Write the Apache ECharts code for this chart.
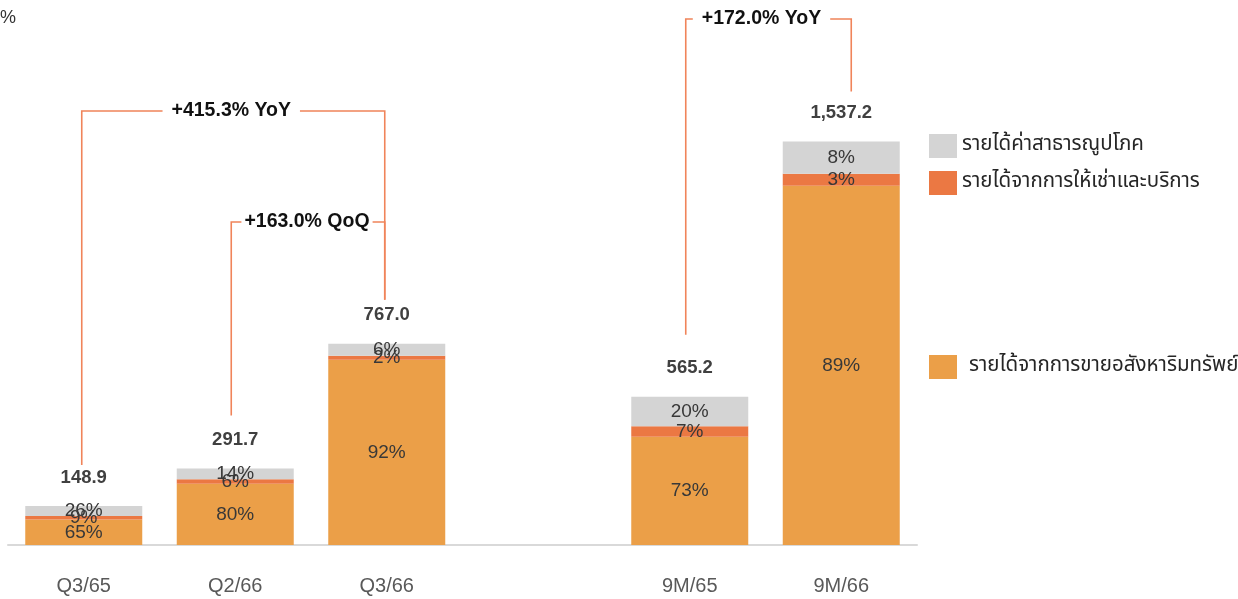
<!DOCTYPE html>
<html>
<head>
<meta charset="utf-8">
<script src="https://cdn.jsdelivr.net/npm/echarts@6/dist/echarts.min.js"></script>
<style>
  html, body { margin: 0; padding: 0; background: #fff; }
  #chart { width: 1238px; height: 599px; }
</style>
</head>
<body>
<div id="chart"></div>
<script>
// Revenue by period (million baht) and the share of each revenue stream (%)
const categories   = ['Q3/65', 'Q2/66', 'Q3/66', '', '9M/65', '9M/66'];
const totals       = [148.9, 291.7, 767.0, null, 565.2, 1537.2];
const shareSales   = [65, 80, 92, null, 73, 89];
const shareRent    = [9, 6, 2, null, 7, 3];
const shareUtility = [26, 14, 6, null, 20, 8];

const seriesNames = [
  'รายได้จากการขายอสังหาริมทรัพย์',
  'รายได้จากการให้เช่าและบริการ',
  'รายได้ค่าสาธารณูปโภค'
];

// Growth call-outs: text, from category, to category
const growthLabels = ['+415.3% YoY', '+163.0% QoQ', '+172.0% YoY'];
const growthFrom   = [0, 1, 4];
const growthTo     = [2, 2, 5];

const LATIN = 'Arial, "Liberation Sans", sans-serif';
const THAI = 'Tahoma, "Noto Sans Thai", "Leelawadee UI", "DejaVu Sans", sans-serif';

const seg = (shares) => totals.map((t, i) => t == null ? null : t * shares[i] / 100);
const shareLabel = (shares) => ({
  show: true,
  position: 'inside',
  color: '#383838',
  fontSize: 19,
  fontFamily: LATIN,
  formatter: p => shares[p.dataIndex] + '%'
});

const chart = echarts.init(document.getElementById('chart'), null, { renderer: 'canvas' });

chart.setOption({
  animation: false,
  backgroundColor: '#fff',
  grid: { left: 8, right: 321, top: 20, bottom: 54 },
  xAxis: {
    type: 'category',
    data: categories,
    axisLine: { lineStyle: { color: '#D9D9D9', width: 2 } },
    axisTick: { show: false },
    axisLabel: { color: '#595959', fontSize: 20, fontFamily: LATIN, margin: 31 }
  },
  yAxis: {
    type: 'value', min: 0, max: 2000, show: false,
    splitLine: { show: false }
  },
  legend: [
    { data: [seriesNames[2]], left: 929, top: 134 },
    { data: [seriesNames[1]], left: 929, top: 171 },
    { data: [seriesNames[0]], left: 929, top: 355, textStyle: { padding: [0, 0, 0, 7] } }
  ].map(l => Object.assign({
    orient: 'vertical', icon: 'rect', itemWidth: 28, itemHeight: 24, padding: 0,
    selectedMode: false,
    textStyle: Object.assign({ color: '#262626', fontSize: 20.5, fontFamily: THAI }, l.textStyle || {})
  }, { data: l.data, left: l.left, top: l.top })),
  series: [
    {
      name: seriesNames[0], type: 'bar', stack: 'rev', barWidth: 117,
      itemStyle: { color: '#EB9F48' },
      label: shareLabel(shareSales),
      data: seg(shareSales)
    },
    {
      name: seriesNames[1], type: 'bar', stack: 'rev', barWidth: 117,
      itemStyle: { color: '#EB7843' },
      label: shareLabel(shareRent),
      data: seg(shareRent)
    },
    {
      name: seriesNames[2], type: 'bar', stack: 'rev', barWidth: 117,
      itemStyle: { color: '#D4D4D4' },
      label: shareLabel(shareUtility),
      data: seg(shareUtility)
    },
    {
      // invisible anchor at each bar total carrying the total label
      name: 'total', type: 'scatter', symbolSize: 0, silent: true,
      itemStyle: { opacity: 1 },
      label: {
        show: true, position: 'top', distance: 19,
        color: '#404040', fontSize: 18.5, fontWeight: 'bold', fontFamily: LATIN,
        formatter: p => p.value.toLocaleString('en-US', { minimumFractionDigits: 1, maximumFractionDigits: 1 })
      },
      data: totals
    }
  ]
});

// Call-out brackets: vertical leg above each bar, joined across the top with the growth text
const bracketTop  = [111, 222, 19];                 // y of the horizontal run
const legGap      = [[41, 44], [53, 44], [62, 50]]; // clearance above bar tops (px)
const legShift    = [[-2, -2], [-4, -2], [-4, 10]]; // small horizontal nudges (px)
const textPad     = [9, 3, 9];

const graphics = [{
  type: 'text', left: 0, top: 9,
  style: { text: '%', font: '18px ' + LATIN, fill: '#333' }
}];

growthLabels.forEach((txt, k) => {
  const a = growthFrom[k], b = growthTo[k];
  const pa = chart.convertToPixel({ gridIndex: 0 }, [a, totals[a]]);
  const pb = chart.convertToPixel({ gridIndex: 0 }, [b, totals[b]]);
  const xa = pa[0] + legShift[k][0], xb = pb[0] + legShift[k][1];
  const y = bracketTop[k];
  graphics.push({
    type: 'polyline', silent: true,
    shape: { points: [[xa, pa[1] - legGap[k][0]], [xa, y], [xb, y], [xb, pb[1] - legGap[k][1]]] },
    style: { stroke: '#F0845A', lineWidth: 1.6, fill: null }
  });
  graphics.push({
    type: 'text', silent: true, z: 10,
    x: (pa[0] + pb[0]) / 2 - 4, y: y,
    style: {
      text: txt, font: 'bold 19.5px ' + LATIN, fill: '#111',
      align: 'center', verticalAlign: 'middle',
      backgroundColor: '#fff', padding: [2, textPad[k]]
    }
  });
});

chart.setOption({ graphic: graphics });
</script>
</body>
</html>
